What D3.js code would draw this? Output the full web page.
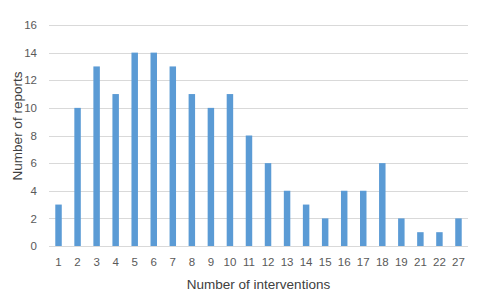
<!DOCTYPE html>
<html><head><meta charset="utf-8">
<script src="https://cdn.jsdelivr.net/npm/d3@7"></script>
<style>body{margin:0;background:#fff}svg{display:block;font-family:"Liberation Sans",Arial,sans-serif}</style>
</head><body><svg id="c" width="484" height="299"></svg>
<script>
const categories = ["1","2","3","4","5","6","7","8","9","10","11","12","13","14","15","16","17","18","19","21","22","27"];
const reports = [3,10,13,11,14,14,13,11,10,11,8,6,4,3,2,4,4,6,2,1,1,2];
const yTicks = [0,2,4,6,8,10,12,14,16];

const svg = d3.select("#c");
const m = {l:49, r:16, t:25, b:53};
const W = 484, H = 299;
const x = d3.scaleBand().domain(categories).range([m.l, W-m.r]).paddingInner(0.66).paddingOuter(0.33);
const y = d3.scaleLinear().domain([0,16]).range([H-m.b, m.t]);

const grid = svg.append("g");
grid.selectAll("line").data(yTicks).join("line")
  .attr("x1", m.l).attr("x2", W-m.r)
  .attr("y1", d=>Math.round(y(d))+0.5).attr("y2", d=>Math.round(y(d))+0.5)
  .attr("stroke", "#d9d9d9").attr("stroke-width", 1);

svg.append("g").selectAll("rect").data(categories).join("rect")
  .attr("x", (d)=>x(d)).attr("width", x.bandwidth())
  .attr("y", (d,i)=>y(reports[i])).attr("height", (d,i)=>y(0)-y(reports[i]))
  .attr("fill", "#5b9bd5");

const yAxis = svg.append("g").attr("transform", `translate(${m.l},0)`)
  .call(d3.axisLeft(y).tickValues(yTicks).tickSize(0).tickPadding(12));
yAxis.select(".domain").remove();
yAxis.selectAll("text").attr("font-size", 11.5).attr("fill", "#595959").attr("font-family", "Liberation Sans, Arial, sans-serif");

const xAxis = svg.append("g").attr("transform", `translate(0,${y(0)})`)
  .call(d3.axisBottom(x).tickSize(0).tickPadding(12));
xAxis.select(".domain").remove();
xAxis.selectAll("text").attr("font-size", 11.5).attr("fill", "#595959").attr("font-family", "Liberation Sans, Arial, sans-serif");

svg.append("text").attr("x", (m.l + W - m.r)/2).attr("y", 289)
  .attr("text-anchor", "middle").attr("font-size", 13.5).attr("fill", "#404040")
  .text("Number of interventions");
svg.append("text").attr("transform", `translate(22,126) rotate(-90)`)
  .attr("text-anchor", "middle").attr("font-size", 13.5).attr("fill", "#404040")
  .text("Number of reports");
</script></body></html>
